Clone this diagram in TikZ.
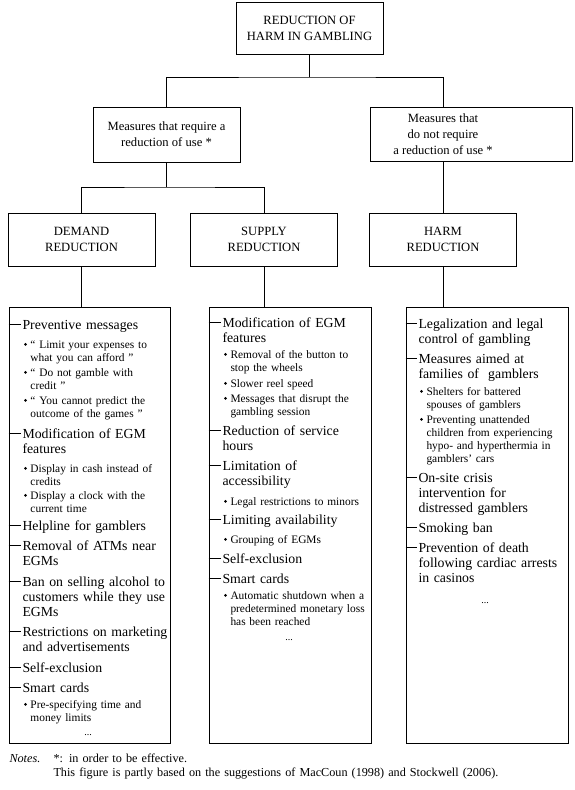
\documentclass[tikz,border=0pt]{standalone}
\usepackage{fontspec}
\setmainfont{Liberation Serif}
\usetikzlibrary{calc}
\newcommand\mainent[5]{% name, box, x, y, text
  \node[mitem] (#1) at (#3,#4) {#5};
  \draw ($(#2.west |- #1.base)+(0,-4.5)$) -- ($(#1.base west)+(-1.5,-4.5)$);
}
\newcommand\subent[4]{% name, x, y, text
  \node[sitem] (#1) at (#2,#3) {#4};
  \fill ($(#1.base west)+(-4.5,-3.6)$) circle (1.5pt);
}
\begin{document}
\begin{tikzpicture}[x=1pt,y=-1pt,line width=1pt,
  box/.style={draw, inner sep=0pt},
  head/.style={align=center, inner sep=0pt, font=\fontsize{12.6}{16}\selectfont},
  mitem/.style={anchor=base west, inner sep=0pt, text width=165pt, align=left, font=\fontsize{13.8}{15}\selectfont},
  sitem/.style={anchor=base west, inner sep=0pt, text width=165pt, align=left, font=\fontsize{11.4}{13}\selectfont},
  dots/.style={anchor=base, inner sep=0pt, font=\fontsize{10}{12}\selectfont},
]
\useasboundingbox (0,0) rectangle (574,790);

% top levels
\node[box, head, minimum width=147pt, minimum height=52pt] (top) at (309.5,28) {REDUCTION OF\\HARM IN GAMBLING};
\node[box, head, minimum width=147pt, minimum height=55pt] (ml) at (166.5,134.5) {Measures that require a\\reduction of use *};
\node[box, minimum width=202pt, minimum height=54pt] (mr) at (471,134) {};
\node[head] (mrt) at (443,134) {Measures that\\do not require\\a reduction of use *};

\node[box, head, minimum width=147pt, minimum height=53pt] (hd) at (81.5,239.5) {DEMAND\\REDUCTION};
\node[box, head, minimum width=147pt, minimum height=53pt] (hs) at (264,239.5) {SUPPLY\\REDUCTION};
\node[box, head, minimum width=147pt, minimum height=53pt] (hh) at (443,239.5) {HARM\\REDUCTION};

\node[box, minimum width=161pt, minimum height=436pt] (ld) at (89.5,525) {};
\node[box, minimum width=162pt, minimum height=436pt] (ls) at (290,525) {};
\node[box, minimum width=162pt, minimum height=436pt] (lh) at (487,525) {};

% connectors
\coordinate (j1) at (309.5,77);
\coordinate (j2) at (166.5,187);
\draw (top.south) -- (j1);
\draw (ml.north) |- (j1) -| (mrt |- mr.north);
\draw (ml.south) -- (j2);
\draw (hd.north) |- (j2) -| (hs.north);
\draw (mrt |- mr.south) -- (hh.north);
\draw (hd.south) -- (hd.south |- ld.north);
\draw (hs.south) -- (hs.south |- ls.north);
\draw (hh.south) -- (hh.south |- lh.north);

% demand list
\mainent{d1}{ld}{22}{329}{Preventive messages}
\subent{d1a}{30}{348}{“ Limit your expenses to\\what you can afford ”}
\subent{d1b}{30}{376}{“ Do not gamble with\\credit ”}
\subent{d1c}{30}{404}{“ You cannot predict the\\outcome of the games ”}
\mainent{d2}{ld}{22}{438}{Modification of EGM\\features}
\subent{d2a}{30}{472}{Display in cash instead of\\credits}
\subent{d2b}{30}{499}{Display a clock with the\\current time}
\mainent{d3}{ld}{22}{530}{Helpline for gamblers}
\mainent{d4}{ld}{22}{550}{Removal of ATMs near\\EGMs}
\mainent{d5}{ld}{22}{586}{Ban on selling alcohol to\\customers while they use\\EGMs}
\mainent{d6}{ld}{22}{636}{Restrictions on marketing\\and advertisements}
\mainent{d7}{ld}{22}{672}{Self-exclusion}
\mainent{d8}{ld}{22}{692}{Smart cards}
\subent{d8a}{30}{708}{Pre-specifying time and\\money limits}
\node[dots] (dd) at (88,735) {...};

% supply list
\mainent{s1}{ls}{222}{327}{Modification of EGM\\features}
\subent{s1a}{230}{358}{Removal of the button to\\stop the wheels}
\subent{s1b}{230}{387}{Slower reel speed}
\subent{s1c}{230}{402}{Messages that disrupt the\\gambling session}
\mainent{s2}{ls}{222}{435}{Reduction of service\\hours}
\mainent{s3}{ls}{222}{470}{Limitation of\\accessibility}
\subent{s3a}{230}{505}{Legal restrictions to minors}
\mainent{s4}{ls}{222}{524}{Limiting availability}
\subent{s4a}{230}{543}{Grouping of EGMs}
\mainent{s5}{ls}{222}{563}{Self-exclusion}
\mainent{s6}{ls}{222}{583}{Smart cards}
\subent{s6a}{230}{599}{Automatic shutdown when a\\predetermined monetary loss\\has been reached}
\node[dots] (sd) at (289,640) {...};

% harm list
\mainent{h1}{lh}{418}{328}{Legalization and legal\\control of gambling}
\mainent{h2}{lh}{418}{363}{Measures aimed at\\families of~ gamblers}
\subent{h2a}{426}{395}{Shelters for battered\\spouses of gamblers}
\subent{h2b}{426}{423}{Preventing unattended\\children from experiencing\\hypo- and hyperthermia in\\gamblers’ cars}
\mainent{h3}{lh}{418}{482}{On-site crisis\\intervention for\\distressed gamblers}
\mainent{h4}{lh}{418}{532}{Smoking ban}
\mainent{h5}{lh}{418}{552}{Prevention of death\\following cardiac arrests\\in casinos}
\node[dots] (hd2) at (485,603) {...};

% notes
\node[anchor=base west, inner sep=0pt, font=\fontsize{12.2}{14}\selectfont\itshape] (notes) at (9,762) {Notes.};
\node[anchor=base west, inner sep=0pt, text width=510pt, align=left, font=\fontsize{12.2}{14}\selectfont] (ntext) at (53,762) {*: in order to be effective.\\This figure is partly based on the suggestions of MacCoun (1998) and Stockwell (2006).};
\end{tikzpicture}
\end{document}
